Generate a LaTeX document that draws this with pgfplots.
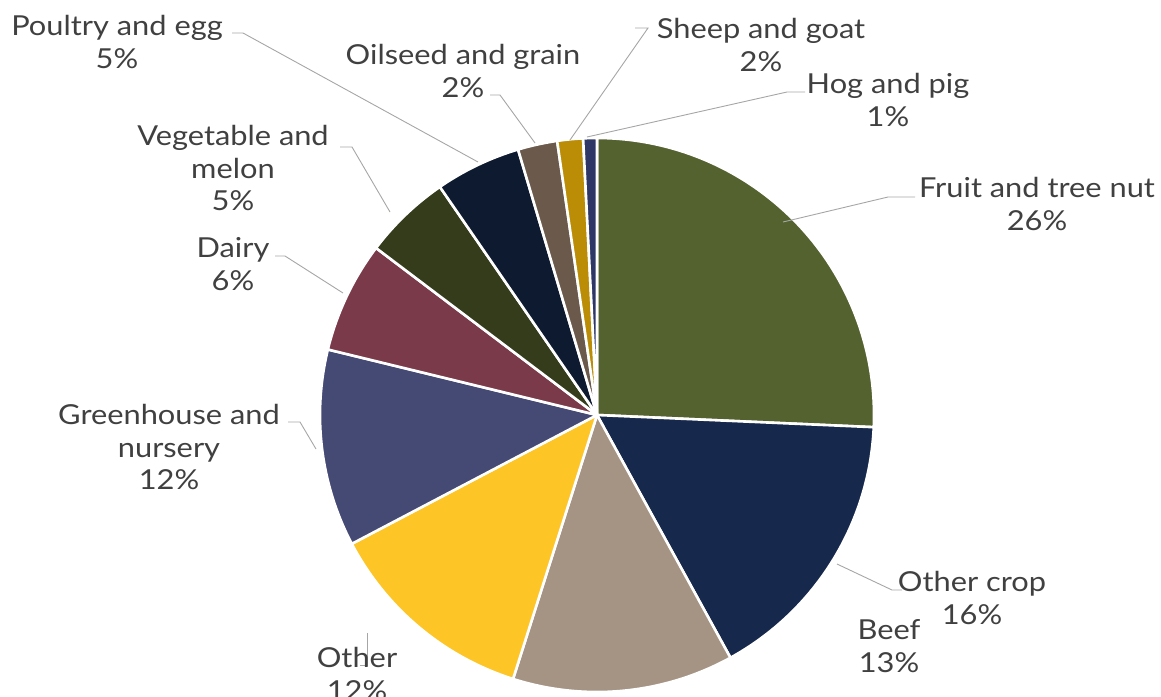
\documentclass[border=0pt]{standalone}
\usepackage{pgfplots}
\pgfplotsset{compat=1.18}
\usepackage{fontspec}
\setmainfont{Lato}[FakeStretch=1.12]
\definecolor{cFruit}{HTML}{546230}
\definecolor{cOcrop}{HTML}{17284D}
\definecolor{cBeef}{HTML}{A59484}
\definecolor{cOther}{HTML}{FEC526}
\definecolor{cGreen}{HTML}{454A75}
\definecolor{cDairy}{HTML}{7B3A4A}
\definecolor{cVeg}{HTML}{343C1C}
\definecolor{cPoul}{HTML}{0E1A30}
\definecolor{cOil}{HTML}{6B594B}
\definecolor{cSheep}{HTML}{BB8C05}
\definecolor{cHog}{HTML}{2E3766}
\definecolor{txt}{HTML}{404040}
\definecolor{lead}{HTML}{A6A6A6}
\tikzset{lbl/.style={font=\fontsize{27.5}{32.5}\selectfont, text=txt, align=center, inner sep=0pt}}
\def\cum{0}
% #1 share in percent, #2 colour
\newcommand\slice[2]{%
  \pgfmathsetmacro\aEnd{90-3.6*\cum}%
  \pgfmathsetmacro\newcum{\cum+#1}%
  \pgfmathsetmacro\aStart{90-3.6*\newcum}%
  \edef\tmp{\noexpand\addplot[fill=#2, draw=white, line width=2.6pt, line join=round,
     domain=\aStart:\aEnd, samples=90, variable=\noexpand\t]
     ({597+277*cos(\noexpand\t)},{415-277*sin(\noexpand\t)}) -- (axis cs:597,415) -- cycle;}%
  \tmp
  \global\let\cum\newcum
}
\begin{document}
\begin{tikzpicture}
\begin{axis}[name=ax, hide axis, scale only axis, width=1161pt, height=696pt,
  xmin=0, xmax=1161, ymin=0, ymax=696, y dir=reverse, clip=false]
\slice{25.7}{cFruit}
\slice{16.3}{cOcrop}
\slice{12.9}{cBeef}
\slice{12.4}{cOther}
\slice{11.5}{cGreen}
\slice{6.5}{cDairy}
\slice{5.1}{cVeg}
\slice{5.0}{cPoul}
\slice{2.3}{cOil}
\slice{1.5}{cSheep}
\slice{0.8}{cHog}
% leader lines
\addplot[lead, line width=0.9pt, no marks] coordinates {(232,33) (243,33) (478,162)};
\addplot[lead, line width=0.9pt, no marks] coordinates {(490,95) (500,95) (535,143)};
\addplot[lead, line width=0.9pt, no marks] coordinates {(635,28) (648,28) (570,140)};
\addplot[lead, line width=0.9pt, no marks] coordinates {(805,92) (787,92) (587,137)};
\addplot[lead, line width=0.9pt, no marks] coordinates {(915,197) (888,197) (783,222)};
\addplot[lead, line width=0.9pt, no marks] coordinates {(902,590) (892,590) (837,564)};
\addplot[lead, line width=0.9pt, no marks] coordinates {(360,665) (367,665) (367,633)};
\addplot[lead, line width=0.9pt, no marks] coordinates {(288,422) (300,422) (316,449)};
\addplot[lead, line width=0.9pt, no marks] coordinates {(275,256) (285,256) (343,293)};
\addplot[lead, line width=0.9pt, no marks] coordinates {(340,147) (352,147) (390,212)};
% labels
\node[lbl] at (axis cs:117,42) {Poultry and egg\\5\%};
\node[lbl] at (axis cs:463,71) {Oilseed and grain\\2\%};
\node[lbl] at (axis cs:761,45) {Sheep and goat\\2\%};
\node[lbl] at (axis cs:888,100) {Hog and pig\\1\%};
\node[lbl] at (axis cs:1037,204) {Fruit and tree nut\\26\%};
\node[lbl] at (axis cs:233,168) {Vegetable and\\melon\\5\%};
\node[lbl] at (axis cs:233,264) {Dairy\\6\%};
\node[lbl] at (axis cs:169,447) {Greenhouse and\\nursery\\12\%};
\node[lbl] at (axis cs:357,674) {Other\\12\%};
\node[lbl] at (axis cs:889,646) {Beef\\13\%};
\node[lbl] at (axis cs:972,598) {Other crop\\16\%};
\end{axis}
\pgfresetboundingbox
\path (ax.south west) rectangle (ax.north east);
\end{tikzpicture}
\end{document}
